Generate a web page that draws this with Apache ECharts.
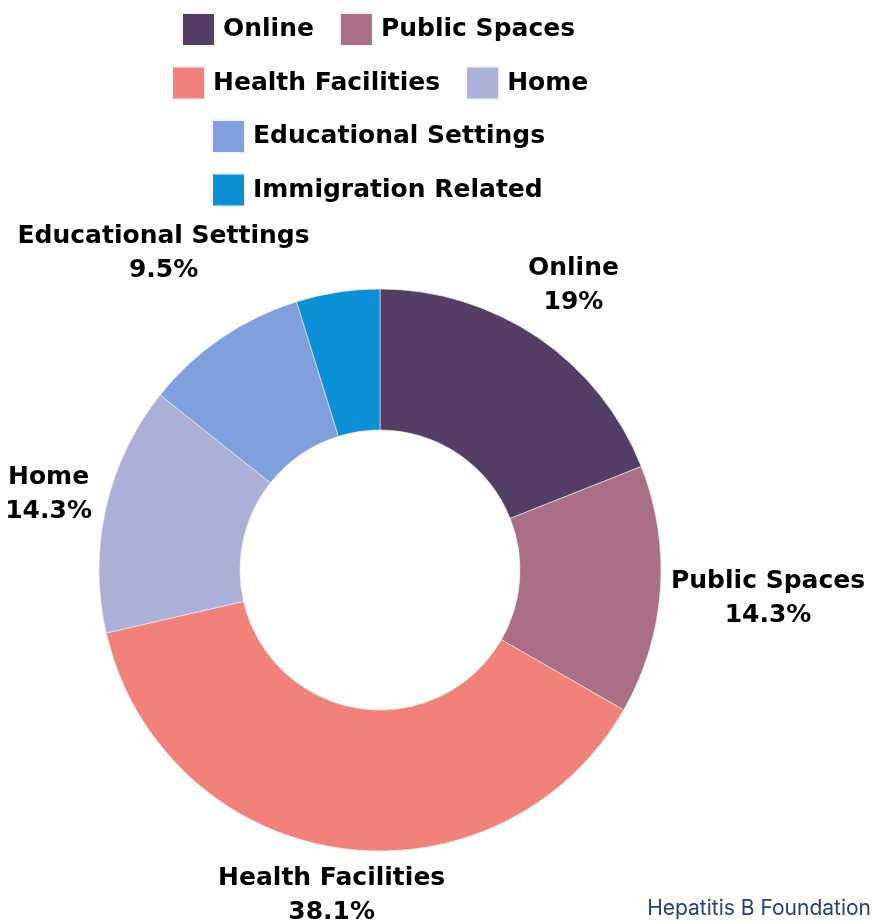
<!DOCTYPE html>
<html>
<head>
<meta charset="utf-8">
<title>Settings</title>
<script src="https://cdn.jsdelivr.net/npm/echarts@6/dist/echarts.min.js"></script>
<style>
  html, body { margin: 0; padding: 0; background: #fff; }
  #chart { width: 872px; height: 923px; }
</style>
</head>
<body>
<div id="chart"></div>
<script>
const categories = ['Online', 'Public Spaces', 'Health Facilities', 'Home', 'Educational Settings', 'Immigration Related']
const percents = [19, 14.3, 38.1, 14.3, 9.5, 4.8]
const showLabel = [true, true, true, true, true, false]
const colors = ['#553e66', '#a96f86', '#f2817a', '#abb0d8', '#7fa0dc', '#0b8fd6']

// legend rows as they are laid out in the picture
const legendRows = [
  ['Online', 'Public Spaces'],
  ['Health Facilities', 'Home'],
  ['Educational Settings'],
  ['Immigration Related']
]
const legendLeft = [181, 171, 211, 211]

const CX = 380
const CY = 570
const R_IN = 140
const R_OUT = 281
const LABEL_GAP = 10

const font = '"DejaVu Sans", sans-serif'

const chart = echarts.init(document.getElementById('chart'))

// push each label out along its slice's mid ray until the box clears the ring
const placeLabel = (p) => {
  const r = p.labelRect
  const ax = p.align === 'right' ? r.x + r.width : r.x
  const ay = r.y + r.height / 2
  let dx = ax - CX
  let dy = ay - CY
  const len = Math.sqrt(dx * dx + dy * dy) || 1
  dx /= len
  dy /= len
  const hw = r.width / 2
  const hh = r.height / 2
  const target = R_OUT + LABEL_GAP
  let lo = 0
  let hi = 800
  for (let i = 0; i < 40; i++) {
    const t = (lo + hi) / 2
    const ex = Math.max(Math.abs(dx * t) - hw, 0)
    const ey = Math.max(Math.abs(dy * t) - hh, 0)
    if (Math.sqrt(ex * ex + ey * ey) < target) lo = t
    else hi = t
  }
  return { x: CX + dx * hi, y: CY + dy * hi, align: 'center', verticalAlign: 'middle' }
}

const option = {
  backgroundColor: '#fff',
  color: colors,
  animation: false,
  title: {
    text: 'Hepatitis B Foundation',
    right: 0,
    bottom: 0,
    padding: [0, 1, 4, 0],
    textStyle: { fontFamily: 'Inter, sans-serif', fontSize: 21, fontWeight: 'normal', color: '#22407f' }
  },
  legend: legendRows.map((row, i) => ({
    data: row,
    left: legendLeft[i],
    top: 12 + i * 53.5,
    padding: 0,
    icon: 'rect',
    itemWidth: 33,
    itemHeight: 33,
    itemGap: 25,
    selectedMode: false,
    textStyle: {
      fontFamily: font,
      fontSize: 25,
      fontWeight: 'bold',
      color: '#000',
      padding: [0, 0, 0, 3]
    }
  })),
  series: [
    {
      type: 'pie',
      center: [CX, CY],
      radius: [R_IN, R_OUT],
      startAngle: 90,
      percentPrecision: 1,
      avoidLabelOverlap: false,
      itemStyle: { borderColor: '#f4f4f8', borderWidth: 0.6 },
      label: {
        position: 'outside',
        distanceToLabelLine: 0,
        fontFamily: font,
        fontSize: 25,
        fontWeight: 'bold',
        lineHeight: 34,
        color: '#000',
        formatter: (p) => p.name + '\n' + p.percent + '%'
      },
      labelLine: { show: false, length: 10, length2: 0 },
      labelLayout: placeLabel,
      emphasis: { disabled: true },
      data: categories.map((name, i) => ({
        name,
        value: percents[i],
        label: { show: showLabel[i] }
      }))
    }
  ]
}

chart.setOption(option)
</script>
</body>
</html>
